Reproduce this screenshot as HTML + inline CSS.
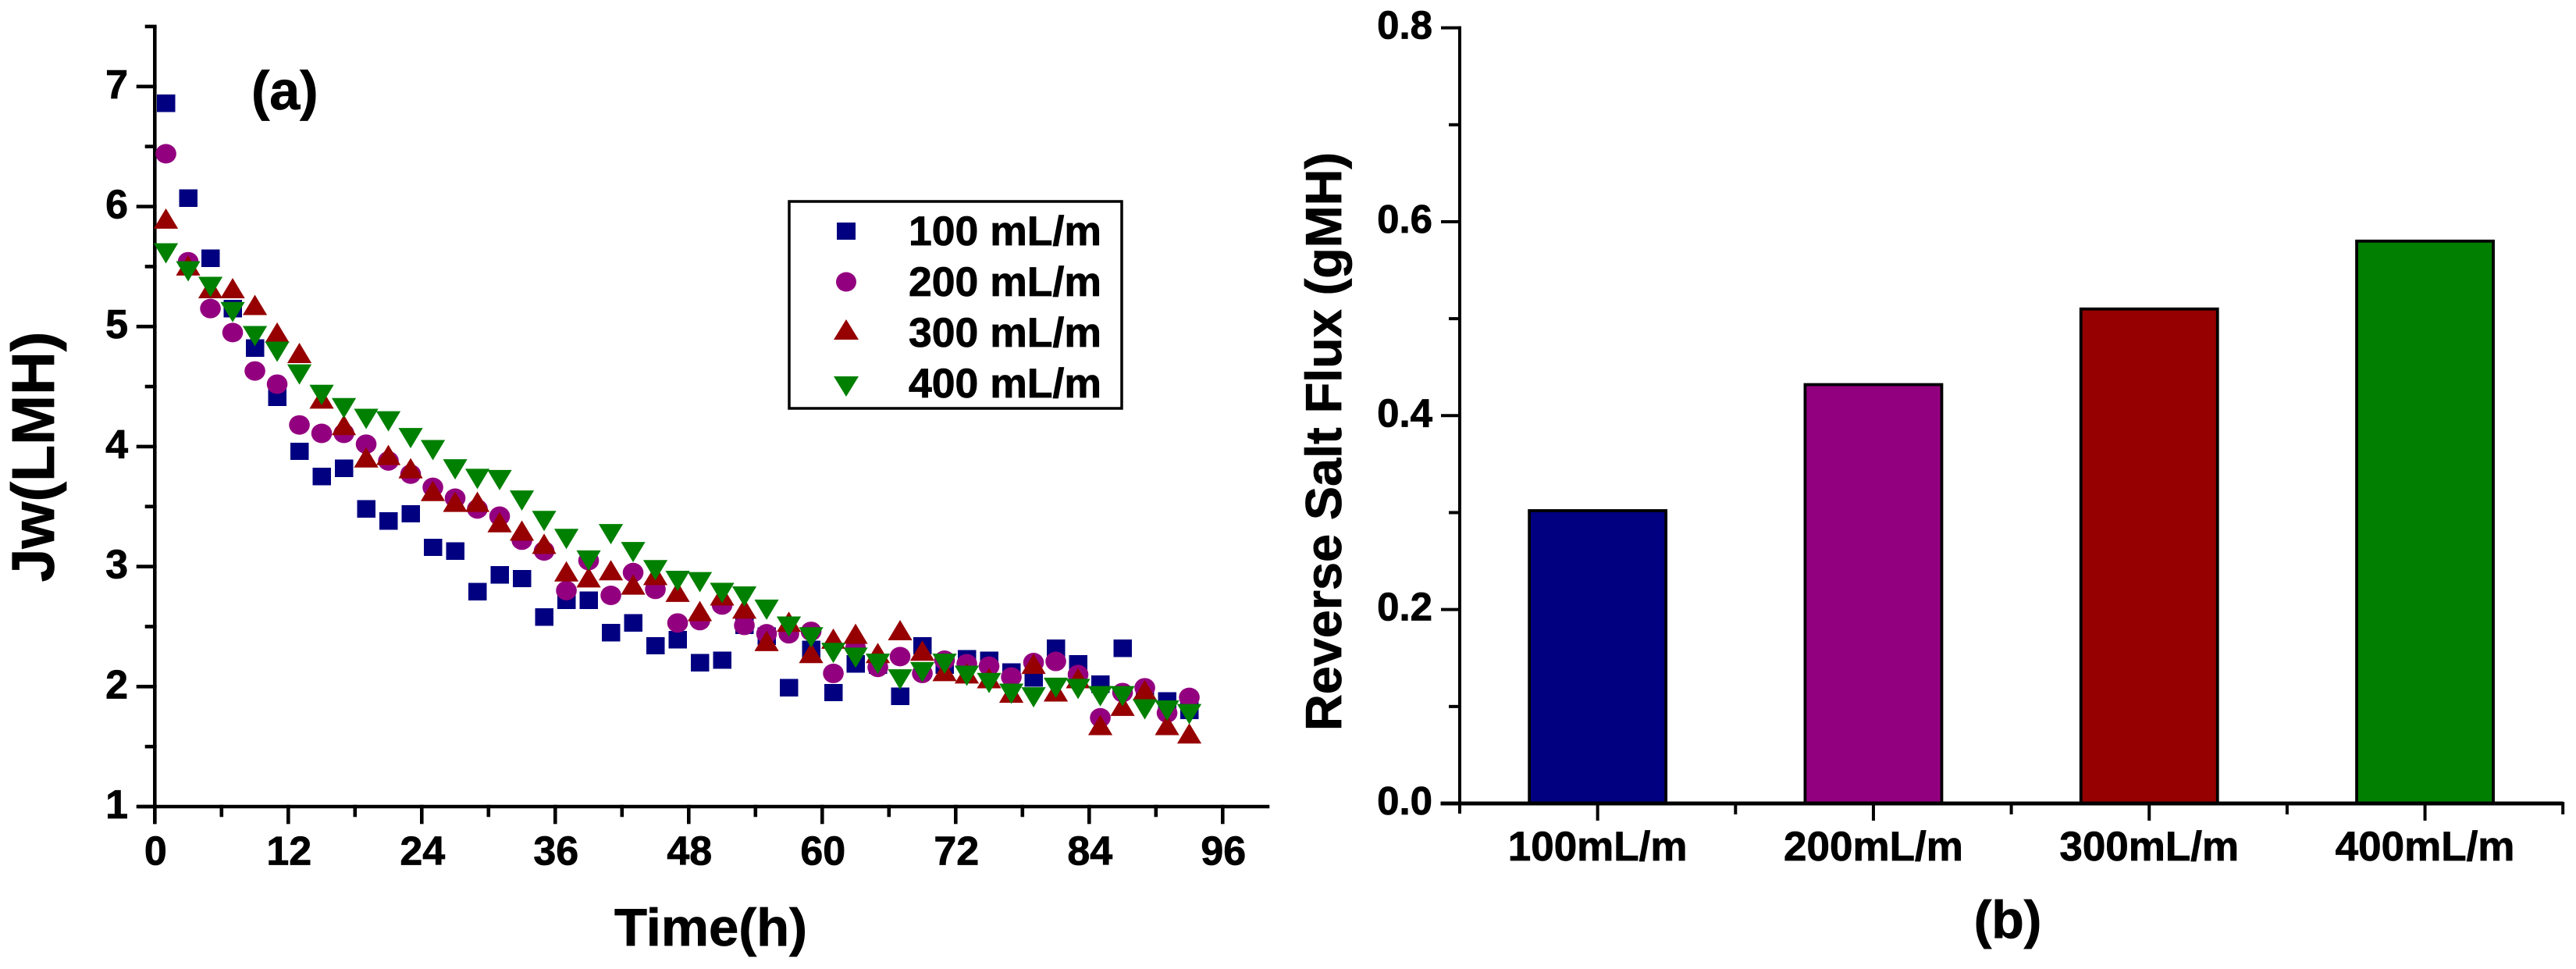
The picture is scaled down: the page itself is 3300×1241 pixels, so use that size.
<!DOCTYPE html>
<html lang="en">
<head>
<meta charset="utf-8">
<title>Water flux and reverse salt flux</title>
<style>
html,body{margin:0;padding:0;background:#fff;}
svg{display:block;}
text{font-family:"Liberation Sans",Arial,sans-serif;font-weight:bold;fill:#000;stroke:#000;stroke-width:.8px;}
</style>
</head>
<body>
<svg id="figure" xmlns="http://www.w3.org/2000/svg" width="3300" height="1241" viewBox="0 0 3300 1241">
  <rect width="3300" height="1241" fill="#fff"/>
  <g id="panel-a"></g>
  <g id="panel-b"></g>

  <text x="322" y="140" font-size="70">(a)</text>
  <text transform="translate(69,585) rotate(-90)" text-anchor="middle" font-size="77">Jw(LMH)</text>
  <text x="787" y="1211" font-size="68" textLength="247" lengthAdjust="spacingAndGlyphs">Time(h)</text>

  <text x="2572" y="1201" text-anchor="middle" font-size="68">(b)</text>
  <text transform="translate(1718,936) rotate(-90)" font-size="65" textLength="741" lengthAdjust="spacingAndGlyphs">Reverse Salt Flux (gMH)</text>

  <g>
    <rect x="1011" y="258" width="426" height="265" fill="#fff" stroke="#000" stroke-width="3.5"/>
    <g>
      <rect x="1072" y="285" width="24" height="22" fill="#000080" shape-rendering="crispEdges"/>
      <text x="1164" y="314" font-size="53" textLength="247" lengthAdjust="spacingAndGlyphs">100 mL/m</text>
    </g>
    <g>
      <ellipse cx="1084" cy="361" rx="13" ry="12.5" fill="#93007f"/>
      <text x="1164" y="379" font-size="53" textLength="247" lengthAdjust="spacingAndGlyphs">200 mL/m</text>
    </g>
    <g>
      <polygon points="1084,409 1100,435 1068,435" fill="#960000"/>
      <text x="1164" y="444" font-size="53" textLength="247" lengthAdjust="spacingAndGlyphs">300 mL/m</text>
    </g>
    <g>
      <polygon points="1068,482 1100,482 1084,508" fill="#008000"/>
      <text x="1164" y="509" font-size="53" textLength="247" lengthAdjust="spacingAndGlyphs">400 mL/m</text>
    </g>
  </g>
</svg>

<script>
// Panel (a) data
const hours = [1,3,5,7,9,11,13,15,17,19,21,23,25,27,29,31,33,35,37,39,41,43,45,47,49,51,53,55,57,59,61,63,65,67,69,71,73,75,77,79,81,83,85,87,89,91,93];
const flux100 = [6.86,6.07,5.57,5.15,4.82,4.41,3.96,3.75,3.82,3.48,3.38,3.44,3.16,3.13,2.79,2.93,2.90,2.58,2.72,2.72,2.45,2.53,2.34,2.39,2.20,2.22,2.51,2.42,1.99,2.31,1.95,2.19,2.18,1.92,2.34,2.18,2.23,2.22,2.12,2.07,2.32,2.19,2.02,2.32,1.95,1.88,1.80];
const flux200 = [6.44,5.54,5.15,4.95,4.63,4.52,4.18,4.11,4.11,4.02,3.88,3.77,3.66,3.57,3.48,3.42,3.22,3.13,2.80,3.05,2.76,2.95,2.81,2.53,2.55,2.68,2.51,2.44,2.44,2.46,2.11,2.32,2.16,2.25,2.11,2.22,2.19,2.17,2.08,2.20,2.21,2.10,1.74,1.95,1.99,1.78,1.91];
const flux300 = [5.90,5.51,5.32,5.32,5.18,4.95,4.78,4.40,4.18,3.91,3.93,3.82,3.63,3.54,3.54,3.37,3.30,3.19,2.96,2.91,2.97,2.85,2.93,2.79,2.63,2.76,2.65,2.38,2.54,2.28,2.40,2.44,2.28,2.47,2.30,2.13,2.11,2.07,1.95,2.19,1.96,2.07,1.68,1.84,1.97,1.68,1.61];
const flux400 = [5.61,5.46,5.33,5.12,4.92,4.79,4.60,4.43,4.32,4.23,4.21,4.07,3.97,3.81,3.73,3.72,3.55,3.38,3.23,3.05,3.27,3.12,2.97,2.88,2.87,2.78,2.75,2.64,2.50,2.41,2.28,2.24,2.19,2.06,2.12,2.19,2.09,2.03,1.94,1.91,1.99,1.98,1.92,1.92,1.81,1.80,1.77];
const xMajorTicksA = [0,12,24,36,48,60,72,84,96];
const xMinorTicksA = [6,18,30,42,54,66,78,90];
const yMajorTicksA = [1,2,3,4,5,6,7];
const yMinorTicksA = [1.5,2.5,3.5,4.5,5.5,6.5,7.5];

// Panel (b) data
const flowRates = ['100mL/m','200mL/m','300mL/m','400mL/m'];
const saltFlux = [0.302,0.432,0.51,0.58];
const barColors = ['#000080','#93007f','#960000','#007f00'];
const yMajorTicksB = ['0.0','0.2','0.4','0.6','0.8'];
const yMinorTicksB = [0.1,0.3,0.5,0.7];

const NS = 'http://www.w3.org/2000/svg';
const panelA = document.getElementById('panel-a');
const panelB = document.getElementById('panel-b');

function make(parent, tag, attrs, txt) {
  const el = document.createElementNS(NS, tag);
  for (const k in attrs) el.setAttribute(k, attrs[k]);
  if (txt !== undefined) el.textContent = txt;
  parent.appendChild(el);
  return el;
}

// Axis functions, panel (a)
const xA = h => 198.3 + h * 14.25;
const yA = v => 1033 - (v - 1) * 153.7;
// Axis functions, panel (b)
const xB = i => 1870 + (i + 0.5) * 353.3;
const yB = v => 1029 - v * 1241.75;

function axisLine(parent, x1, y1, x2, y2, w) {
  return make(parent, 'line', {x1, y1, x2, y2, stroke: '#000', 'stroke-width': w, 'stroke-linecap': 'square'});
}

// ---------- Panel (a) axes ----------
let el;
el = axisLine(panelA, xA(0), 36, xA(0), 1053, 4.6);


el = axisLine(panelA, 178, yA(1), 1624, yA(1), 4.6);



xMajorTicksA.forEach(t => {
  const tick = axisLine(panelA, xA(t), yA(1), xA(t), 1053, 4.6);
  
  
  const label = make(panelA, 'text', {x: xA(t) + 1, y: 1107.5, 'text-anchor': 'middle', 'font-size': 52}, String(t));
  
  
});
xMinorTicksA.forEach(t => {
  const tick = axisLine(panelA, xA(t), yA(1), xA(t), 1044, 4.6);
  
  
});
yMajorTicksA.forEach(t => {
  const tick = axisLine(panelA, 177, yA(t), xA(0), yA(t), 4.6);
  
  
  const label = make(panelA, 'text', {x: 164, y: yA(t) + 15, 'text-anchor': 'end', 'font-size': 52}, String(t));
  
  
});
yMinorTicksA.forEach(t => {
  const tick = axisLine(panelA, 188, yA(t), xA(0), yA(t), 4.6);
  
  
});

// ---------- Panel (a) series ----------
const seriesA100 = make(panelA, 'g', {fill: '#000080'});


flux100.forEach((v, i) => {
  const p = make(seriesA100, 'rect', {x: xA(hours[i]) - 11.7, y: yA(v) - 11.2, width: 23.4, height: 22.4, 'shape-rendering': 'crispEdges'});
  
  
});

const seriesA200 = make(panelA, 'g', {fill: '#93007f'});


flux200.forEach((v, i) => {
  const p = make(seriesA200, 'ellipse', {cx: xA(hours[i]), cy: yA(v), rx: 13.3, ry: 12.5});
  
  
});

const seriesA300 = make(panelA, 'g', {fill: '#960000'});


flux300.forEach((v, i) => {
  const cx = xA(hours[i]), cy = yA(v);
  const p = make(seriesA300, 'polygon', {points: `${cx},${cy - 13} ${cx + 15.6},${cy + 13} ${cx - 15.6},${cy + 13}`});
  
  
});

const seriesA400 = make(panelA, 'g', {fill: '#008000'});


flux400.forEach((v, i) => {
  const cx = xA(hours[i]), cy = yA(v);
  const p = make(seriesA400, 'polygon', {points: `${cx - 15.6},${cy - 13} ${cx + 15.6},${cy - 13} ${cx},${cy + 13}`});
  
  
});

// ---------- Panel (b) bars ----------
saltFlux.forEach((v, i) => {
  const bar = make(panelB, 'rect', {x: xB(i) - 87.5, y: yB(v), width: 175, height: yB(0) - yB(v), fill: barColors[i], stroke: '#000', 'stroke-width': 3.8});
  
  
});

// ---------- Panel (b) axes ----------
el = axisLine(panelB, 1870, yB(0.8), 1870, 1040, 4);


el = axisLine(panelB, 1848, yB(0), 3281, yB(0), 5);



yMajorTicksB.forEach(t => {
  const v = parseFloat(t);
  const tick = axisLine(panelB, 1848, yB(v), 1870, yB(v), 4);
  
  
  const label = make(panelB, 'text', {x: 1835, y: yB(v) + 14, 'text-anchor': 'end', 'font-size': 51}, t);
  
  
});
yMinorTicksB.forEach(t => {
  const tick = axisLine(panelB, 1858, yB(t), 1870, yB(t), 4);
  
  
});
flowRates.forEach((name, i) => {
  const tick = axisLine(panelB, xB(i), yB(0), xB(i), 1049, 4);
  
  
  const label = make(panelB, 'text', {x: xB(i), y: 1102, 'text-anchor': 'middle', 'font-size': 53}, name);
  
  
  const minor = axisLine(panelB, xB(i) + 176.65, yB(0), xB(i) + 176.65, 1041, 4);
  
  
});
</script>
</body>
</html>
